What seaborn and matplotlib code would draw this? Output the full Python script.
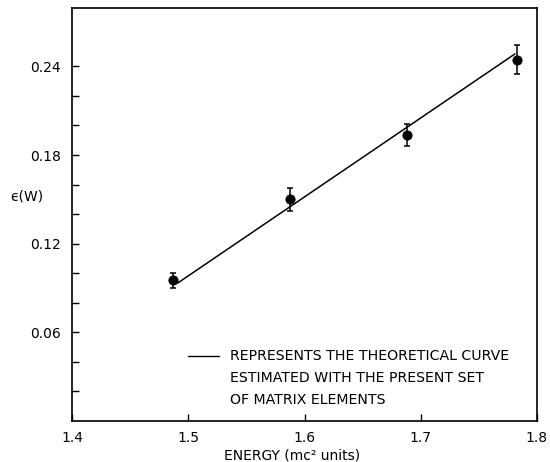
import matplotlib
matplotlib.use("Agg")
import matplotlib.pyplot as plt
import seaborn as sns
import pandas as pd
from matplotlib.ticker import FixedLocator

# Data
energy = [1.487, 1.5875, 1.688, 1.783]
eps_w = [0.0951, 0.150, 0.1937, 0.2445]
eps_err = [0.0053, 0.0079, 0.0075, 0.0100]

theory_energy = [1.491, 1.781]
theory_eps = [0.0934, 0.2484]

x_ticks = [1.4, 1.5, 1.6, 1.7, 1.8]
x_ticklabels = ["1.4", "1.5", "1.6", "1.7", "1.8"]
y_ticks = [0.06, 0.12, 0.18, 0.24]
y_ticklabels = ["0.06", "0.12", "0.18", "0.24"]
y_minor = [0.02, 0.04, 0.08, 0.10, 0.14, 0.16, 0.20, 0.22]

legend_lines = ["REPRESENTS THE THEORETICAL CURVE",
                "ESTIMATED WITH THE PRESENT SET",
                "OF MATRIX ELEMENTS"]

sns.set_theme(style="ticks")
plt.rcParams['font.family'] = ['DejaVu Sans']
plt.rcParams['text.color'] = 'black'
plt.rcParams['axes.labelcolor'] = 'black'
plt.rcParams['xtick.color'] = 'black'
plt.rcParams['ytick.color'] = 'black'

pts = pd.DataFrame({"energy": energy, "eps": eps_w, "err": eps_err})
th = pd.DataFrame({"energy": theory_energy, "eps": theory_eps})

fig = plt.figure(figsize=(5.5, 4.62), dpi=100)
ax = fig.add_axes([72/550, 1 - 421/462, (537-72)/550, (421-8)/462])

sns.lineplot(data=th, x="energy", y="eps", ax=ax, color="black", lw=1.1)
ax.errorbar(pts["energy"], pts["eps"], yerr=pts["err"], fmt="none",
            ecolor="black", elinewidth=1.1, capsize=2.0, capthick=1.1)
sns.scatterplot(data=pts, x="energy", y="eps", ax=ax, color="black",
                s=45, edgecolor="black", zorder=5)

ax.set_xlim(1.4, 1.8)
ax.set_ylim(0, 0.2795)
ax.set_xticks(x_ticks)
ax.set_xticklabels(x_ticklabels, fontsize=10)
ax.set_yticks(y_ticks)
ax.set_yticklabels(y_ticklabels, fontsize=10)
ax.yaxis.set_minor_locator(FixedLocator(y_minor))
ax.tick_params(axis="both", which="both", direction="in", length=5,
               width=1, color="black", labelcolor="black")
ax.tick_params(axis="y", which="both", pad=8)
ax.tick_params(axis="x", which="both", pad=7)
for s in ax.spines.values():
    s.set_linewidth(1.2)
    s.set_color("black")

ax.set_xlabel("ENERGY (mc² units)", fontsize=10, color="black")
ax.xaxis.set_label_coords((292-72)/465, -0.066)
ax.set_ylabel("")
fig.text(10/550, 1 - 196/462, "ϵ(W)", fontsize=10, va="center", ha="left")

# legend-like annotation
fig.add_artist(plt.Line2D([188/550, 219/550], [1 - 356/462, 1 - 356/462],
                          color="black", lw=1.0))
for i, line in enumerate(legend_lines):
    fig.text(230/550, 1 - (356 + 22*i)/462, line, fontsize=10.2,
             va="center", ha="left")

fig.savefig("out.png", dpi=100)
